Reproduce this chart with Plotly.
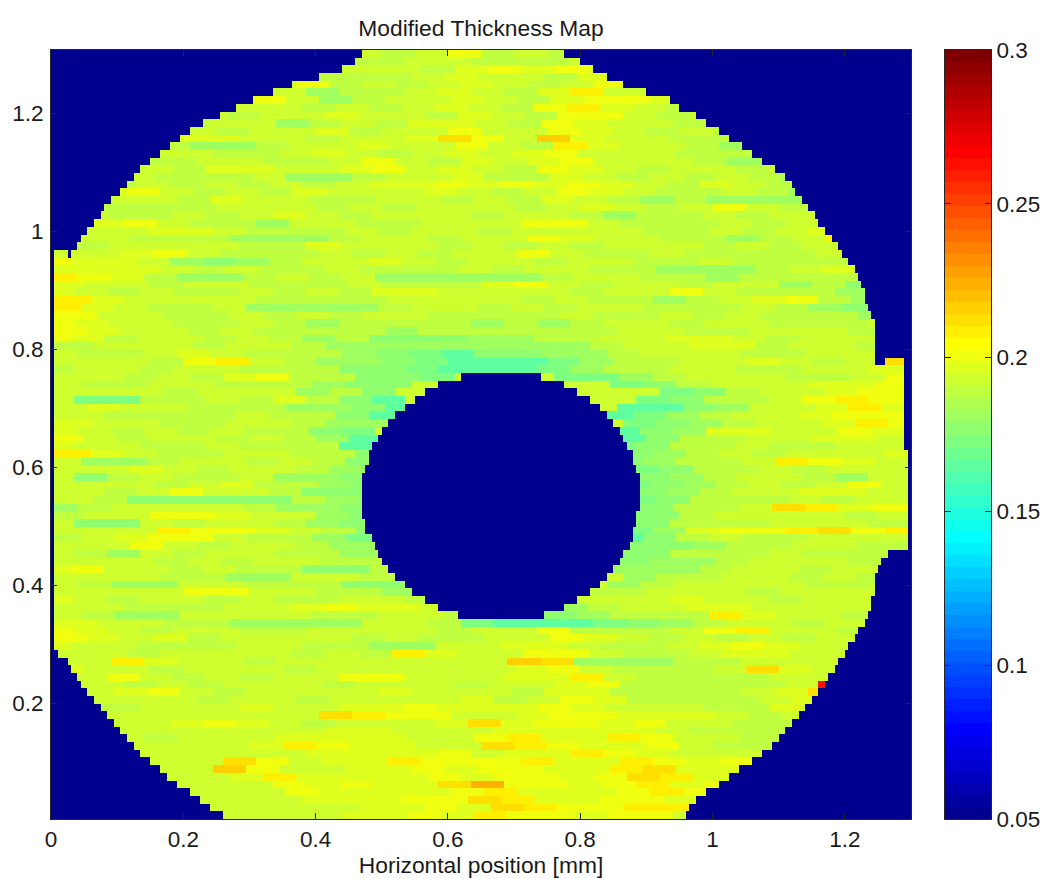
import numpy as np
import plotly.graph_objects as go

TITLE = "Modified Thickness Map"
XLABEL = "Horizontal position [mm]"
X_TICKS = [0, 0.2, 0.4, 0.6, 0.8, 1, 1.2]
Y_TICKS = [0.2, 0.4, 0.6, 0.8, 1, 1.2]
CB_TICKS = [0.05, 0.1, 0.15, 0.2, 0.25, 0.3]
Z_MIN, Z_MAX = 0.05, 0.3
X_RANGE = [0, 1.3]
Y_RANGE = [0.0034, 1.307]

# thickness read per row (top to bottom), per 0.05 mm column, as level codes
LEVELS = {"1": .157, "2": .162, "3": .167, "4": .172, "5": .177, "6": .182, "7": .187, "8": .192,
          "9": .197, "a": .202, "b": .207, "c": .212, "d": .217, "e": .222, "f": .227}
THICKNESS_ROWS = """
88888 88888 78a78 78788 88888 8
77777 77787 78877 78777 77777 7
88888 88888 879a9 a9888 88888 8
77777 77877 78988 79888 77777 8
88887 78a78 78987 8a988 88888 8
77778 87867 78987 9b888 77777 8
88878 9a867 88987 9aa98 88888 8
88777 88878 78987 ab987 77777 8
88888 78898 87987 aa878 87778 8
88787 88678 79987 a9887 87887 7
78878 78897 88a88 a9878 78787 8
77899 98878 89ca8 d9887 78988 8
88776 67889 88a87 b9887 68778 7
88788 77898 78989 a8887 77887 8
87778 8778a 87989 a8887 66787 8
88787 99889 a8987 a9878 87887 7
78877 78667 88977 98787 87677 8
88787 87878 99a9a 9a987 98787 8
89a87 87988 89878 a9877 87677 7
78887 98877 88787 98767 66677 8
87777 88878 78887 89878 a8777 8
88778 78987 88878 87677 87888 8
89a87 76887 7888a a8777 878aa 8
78899 87778 78878 88877 87898 8
88777 66678 8788a 98877 678b8 8
77888 87798 88787 87888 78787 8
889a8 77787 8788a 87787 77789 8
a9986 56788 98788 78877 87777 8
99987 87787 77878 87766 67898 8
ba976 67878 66666 78877 67777 8
98878 87778 7779a 87887 88675 8
98787 78787 99888 8788a 87776 8
b9888 87777 88887 87767 89a76 8
b9877 86666 78878 78877 78765 8
a8877 87878 87777 87787 87776 8
a9887 78767 77767 67887 88777 8
a9887 87777 67777 77887 78887 8
a9788 78767 55566 77889 98788 8
78887 88766 66666 67889 97887 8
87789 87776 54355 66788 87788 8
8887a b8766 54333 46778 89878 c
78878 87775 54333 46778 87788 9
88787 9a775 54888 44678 88778 a
87788 77765 58888 88457 88899 a
88878 88675 88888 88845 7889a a
84477 87975 38888 88845 778ab a
89887 77665 38888 88335 6889b 9
88777 78775 38888 88346 7889a a
98877 88766 88888 88456 7889b a
98787 87754 88888 88356 9988a 9
a8788 78763 88888 88357 78899 8
98877 87773 88888 88457 78778 8
b9877 88775 38888 88567 87888 9
86678 87875 48888 88567 78ba9 8
88987 88765 48888 88457 78788 8
85787 78665 38888 88356 78876 8
88878 97765 48888 88456 7878a 8
8878a 88755 48888 88456 78899 8
87555 55765 38888 88457 77878 8
67888 87665 38888 88457 78cb9 a
788aa 98865 38888 88557 88887 8
85587 88765 48888 88557 77888 7
888ba a9875 48888 88469 aabca b
789aa 87764 48888 88357 87788 8
88a87 88766 58888 88556 77887 7
87687 88776 68888 88557 77877 7
88878 78877 76888 88566 78887 8
9a887 87755 77888 88666 78878 8
88877 66887 77888 88677 88787 8
87668 87775 54888 88678 88877 8
8888a a8877 65488 67788 87888 8
98788 78778 87564 78889 88788 8
88777 889a9 98745 67889 98888 8
87668 88877 88754 56777 b9887 8
98877 66668 87433 34567 88788 8
a9878 87788 88788 a7778 ab887 8
a9897 88887 87788 a9878 78788 8
98877 78877 66889 98778 9a988 8
88788 88787 b988a a8778 99887 8
88b98 87888 8888d c6667 78887 8
98878 88788 88889 a8777 8c988 8
88a87 8788a a8889 9b877 77889 8
88787 88878 88788 9a777 778cd 8
889a8 78888 98887 99777 789c8 8
88887 88788 88978 a9777 78988 8
87788 89889 9a999 a9888 77988 8
88888 888cb aa889 aa999 87888 8
88889 a9878 889c9 aa9a8 87778 8
88888 88899 88899 99987 77788 8
88878 88999 988ab 99ba8 87777 8
88888 89ba9 988cb a99a8 77777 8
88888 88899 99a89 9ba98 88888 8
88888 ca899 baaab 99ba9 a9888 8
88888 da889 9a9aa 99bc9 99888 8
88888 9b999 9a9aa 9acb9 99a88 8
88888 88a9a 99cea a9ab9 a9888 8
88888 88a99 99ab9 99aba 9a888 8
88888 88899 9aacb 99aa9 a8888 8
88888 88889 9a9cb aabb8 88888 8
88888 88889 9a9ba a9aa8 88888 8
"""
# the streaks do not line up from row to row: column start per row, in 0.001 mm
ROW_OFFSET = [0, 17, -11, 6, -19, 13, -6, 21, -15, 9]

# outer edge of the sample per row, top to bottom, in 0.001 mm
OUTER_LEFT = [472, 458, 442, 403, 363, 335, 306, 281, 254, 229, 208, 193, 179, 165, 148, 134, 123, 113, 103, 91,
              82, 73, 63, 55, 47, 38] + [6] * 52 + [12, 23, 30, 40, 47, 55, 65, 74, 84, 93, 104, 114, 125, 137, 150,
              165, 177, 191, 208, 225, 241, 258]
OUTER_RIGHT = [777, 799, 821, 842, 864, 898, 933, 952, 973, 992, 1011, 1026, 1045, 1061, 1077, 1093, 1108, 1118,
               1126, 1134, 1143, 1153, 1162, 1171, 1180, 1189, 1197, 1205, 1214, 1222, 1226, 1228, 1232, 1236, 1239,
               1243, 1245, 1245, 1245, 1245, 1245, 1290, 1290, 1290, 1292, 1292, 1292, 1292, 1292, 1292, 1292, 1292,
               1293, 1293, 1293, 1293, 1293, 1293, 1293, 1295, 1295, 1295, 1295, 1295, 1295, 1267, 1254, 1250, 1247,
               1245, 1243, 1240, 1238, 1234, 1228, 1222, 1214, 1207, 1199, 1192, 1184, 1177, 1169, 1159, 1149, 1138,
               1129, 1119, 1109, 1099, 1090, 1075, 1058, 1041, 1025, 1008, 991, 974, 966, 958]
# central hole, rows 42 to 73
HOLE_FIRST_ROW = 42
HOLE_LEFT = [620, 587, 565, 548, 534, 522, 511, 502, 494, 486, 482, 479, 474, 471, 470, 470, 470, 470, 472, 475,
             477, 483, 488, 493, 502, 511, 520, 533, 547, 564, 586, 617]
HOLE_RIGHT = [741, 774, 796, 814, 828, 840, 850, 859, 867, 872, 878, 882, 886, 888, 890, 891, 891, 891, 887, 884,
              881, 878, 873, 867, 859, 851, 841, 829, 815, 797, 775, 743]
# isolated features: (row, from, to) in 0.001 mm
EXTRA_BLOCK = (40, 1262, 1290)
NOTCH = (26, 23, 29)
HOT_CELL = (82, 1159, 1169, 0.262)


def jet64():
    out = []
    for i in range(64):
        t = (i + 1) / 64
        r = np.clip(min(4 * t - 1.5, -4 * t + 4.5), 0, 1)
        g = np.clip(min(4 * t - 0.5, -4 * t + 3.5), 0, 1)
        b = np.clip(min(4 * t + 0.5, -4 * t + 2.5), 0, 1)
        out.append(f"rgb({int(r*255)},{int(g*255)},{int(b*255)})")
    return out


COLORS = jet64()
scale = []
for i, c in enumerate(COLORS):
    scale += [[i / 64, c], [(i + 1) / 64, c]]

rows = [r.replace(" ", "") for r in THICKNESS_ROWS.split("\n") if r.strip()]
n_rows = len(rows)
n_cols = 260
dx = X_RANGE[1] / n_cols
dy = (Y_RANGE[1] - Y_RANGE[0]) / n_rows
x_centers = (np.arange(n_cols) + 0.5) * dx
y_centers = Y_RANGE[1] - (np.arange(n_rows) + 0.5) * dy

z = np.full((n_rows, n_cols), Z_MIN)
for r, row in enumerate(rows):
    off = ROW_OFFSET[r % len(ROW_OFFSET)]
    for c in range(n_cols):
        mm = x_centers[c] * 1000
        if mm < OUTER_LEFT[r] or mm > OUTER_RIGHT[r]:
            if not (r == EXTRA_BLOCK[0] and EXTRA_BLOCK[1] <= mm <= EXTRA_BLOCK[2]):
                continue
        if r == NOTCH[0] and NOTCH[1] <= mm <= NOTCH[2]:
            continue
        h = r - HOLE_FIRST_ROW
        if 0 <= h < len(HOLE_LEFT) and HOLE_LEFT[h] <= mm <= HOLE_RIGHT[h]:
            continue
        idx = int((mm + off) // 50)
        z[r, c] = LEVELS[row[max(0, min(idx, len(row) - 1))]]
        if r == HOT_CELL[0] and HOT_CELL[1] <= mm <= HOT_CELL[2]:
            z[r, c] = HOT_CELL[3]

W, H = 1042, 879
fig = go.Figure()
fig.add_trace(go.Heatmap(x=x_centers, y=y_centers, z=z, zmin=Z_MIN, zmax=Z_MAX, colorscale=scale,
                         showscale=False, xaxis="x", yaxis="y", hoverinfo="skip"))
cb_levels = Z_MIN + (np.arange(64) + 0.5) * (Z_MAX - Z_MIN) / 64
fig.add_trace(go.Heatmap(x=[0, 1], y=cb_levels, z=np.column_stack([cb_levels, cb_levels]), zmin=Z_MIN, zmax=Z_MAX,
                         colorscale=scale, showscale=False, xaxis="x2", yaxis="y2", hoverinfo="skip"))
FONT = dict(family="Liberation Sans", size=22.5, color="#1a1a1a")
TITLE_FONT = dict(FONT, size=22.8)
AX = dict(showgrid=False, zeroline=False, showline=True, linecolor="#262626", linewidth=1, ticks="inside",
          ticklen=6, tickcolor="#262626", mirror="allticks", tickfont=FONT)
DOM_Y = [(H - 819) / H, (H - 50) / H]
fig.update_layout(
    width=W, height=H, margin=dict(l=0, r=0, t=0, b=0, autoexpand=False), paper_bgcolor="white",
    plot_bgcolor="white", font=FONT,
    title=dict(text=TITLE, x=481 / W, y=1 - 28 / H, xanchor="center", yanchor="middle", font=TITLE_FONT),
    xaxis=dict(AX, domain=[51 / W, 911 / W], range=X_RANGE, tickvals=X_TICKS, ticktext=[str(v) for v in X_TICKS],
               title=dict(text=XLABEL, font=TITLE_FONT, standoff=2)),
    yaxis=dict(AX, domain=DOM_Y, range=Y_RANGE, tickvals=Y_TICKS, ticktext=[str(v) for v in Y_TICKS],
               ticklabelstandoff=2),
    xaxis2=dict(domain=[945 / W, 991 / W], range=[-0.5, 1.5], showticklabels=False, ticks="", showgrid=False,
                zeroline=False, showline=True, linecolor="#262626", mirror=True, anchor="y2"),
    yaxis2=dict(AX, domain=DOM_Y, range=[Z_MIN, Z_MAX], tickvals=CB_TICKS, ticktext=[str(v) for v in CB_TICKS],
                side="right", anchor="x2"),
)
fig.write_html("out.html", config={"displayModeBar": False},
               post_script="document.body.style.margin='0';document.documentElement.style.overflow='hidden';")
